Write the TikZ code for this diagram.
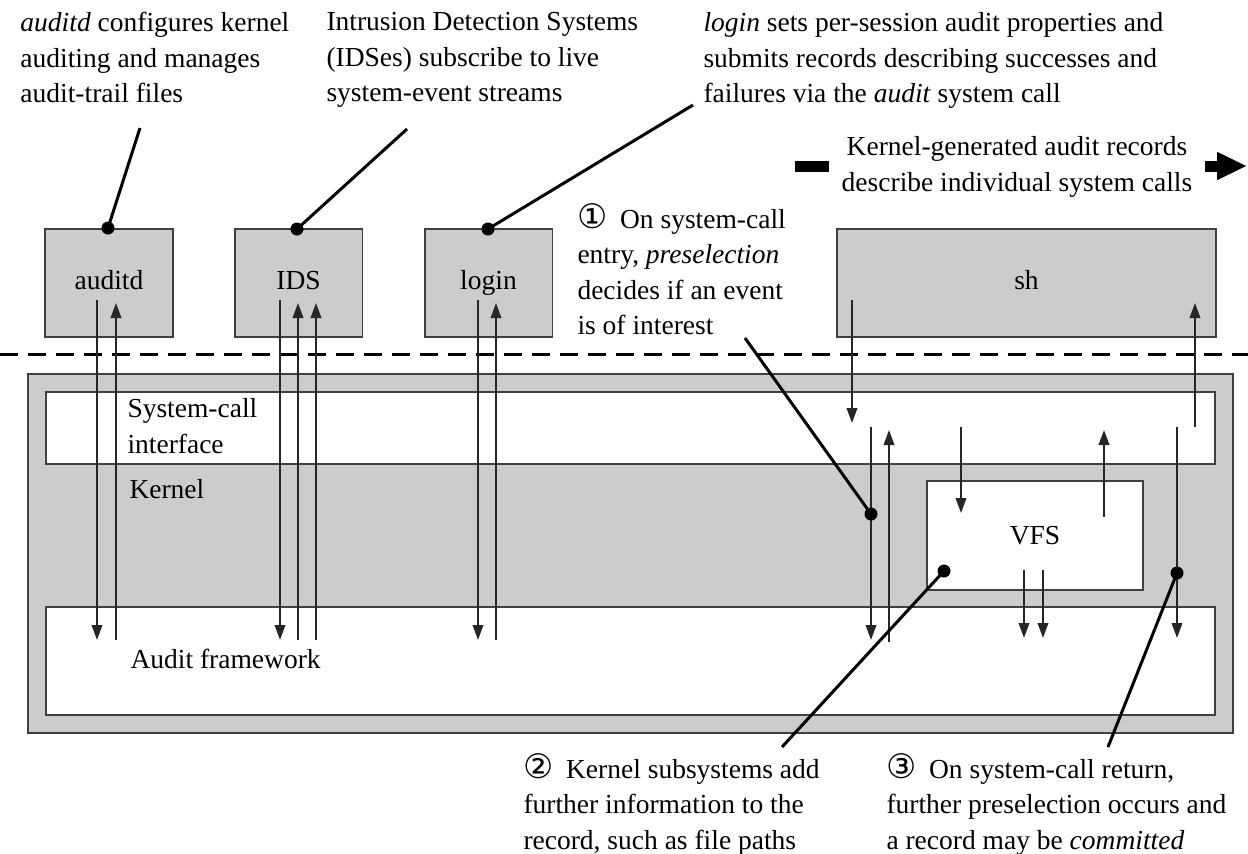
\documentclass[tikz,border=0pt]{standalone}
\usepackage{fontspec}
\setmainfont{Liberation Serif}
\newfontfamily\circfont{DejaVu Sans}
\usetikzlibrary{arrows.meta}
\tikzset{
  procbox/.style={draw=black!75, line width=0.6pt, fill=black!20,
    minimum width=51pt, minimum height=43.2pt, text height=1.6ex, text depth=0.4ex},
  layerbox/.style={draw=black!75, line width=0.6pt, fill=white,
    minimum width=467.6pt},
  note/.style={anchor=north west, inner sep=0pt, align=left},
  flow/.style={draw=black!85, line width=0.8pt, -{Triangle[length=6pt,width=4.2pt]}},
  callout/.style={line width=1.2pt},
  dot/.style={circle, fill=black, inner sep=0pt, minimum size=5.2pt},
  bigarrow/.style={line width=4.4pt, -{Triangle[length=12pt,width=10.4pt]}},
  userline/.style={line width=1.2pt, dash pattern=on 7.2pt off 4pt}
}
\newcommand{\cnum}[1]{{\circfont\fontsize{13.5}{13.5}\selectfont #1}\hspace{0.45em}}
\begin{document}
\begin{tikzpicture}[x=0.4pt,y=-0.4pt,font=\fontsize{11}{14.2}\selectfont]
    \useasboundingbox (0,0) rectangle (1248,854);
    % Kernel side
    \node[draw=black!75, line width=0.6pt, fill=black!20, minimum width=482pt,
      minimum height=143.6pt] (kernel) at (630.5,553.5) {};
    \node[layerbox, minimum height=28.8pt] (syscall) at (630.5,428) {};
    \node[layerbox, minimum height=43.2pt] (auditfw) at (630.5,661) {};
    \node[layerbox, minimum width=86.4pt, minimum height=43.6pt] (vfs) at (1035,535.5) {VFS};
    \node[note] (sclabel) at (127,398) {System-call\\interface};
    \node[note] (klabel) at (129,479) {Kernel};
    \node[note] (aflabel) at (130,649) {Audit framework};
    % User processes
    \node[procbox] (auditd) at (109,283) {auditd};
    \node[procbox] (ids) at (298.5,283) {IDS};
    \node[procbox] (login) at (488.5,283) {login};
    \node[procbox, minimum width=151.6pt] (sh) at (1026.5,283) {sh};
    \coordinate (dashl) at (0,354);
    \coordinate (dashr) at (1248,354);
    \draw[userline] (dashl) -- (dashr);
    % Flows
    \foreach \n/\x/\a/\b in {a1/97/300/640, a2/116/640/303, i1/280/300/640,
      i2/298/640/303, i3/316/640/303, l1/478/300/640, l2/496/640/303,
      s1/852/300/423, s2/871/427/640, s3/889/642/430, s4/961/427/513,
      s5/1104/517/430, s6/1177/427/638, s7/1195/427/303,
      v1/1024/570/638, v2/1043/570/638}
    {
      \coordinate (\n-from) at (\x,\a);
      \coordinate (\n-to) at (\x,\b);
      \draw[flow] (\n-from) -- (\n-to);
    }
    % Notes
    \node[note] (ntauditd) at (20,12) {\textit{auditd} configures kernel\\auditing and manages\\audit-trail files};
    \node[note] (ntids) at (326,12) {Intrusion Detection Systems\\(IDSes) subscribe to live\\system-event streams};
    \node[note] (ntlogin) at (703,12) {\textit{login} sets per-session audit properties and\\submits records describing successes and\\failures via the \textit{audit} system call};
    \coordinate (kstub) at (795,166);
    \coordinate (ktip) at (1247,166);
    \draw[bigarrow] (kstub) -- (ktip);
    \node[fill=white, inner xsep=5pt, inner ysep=1pt, align=center] (kgen) at (1017,167) {Kernel-generated audit records\\describe individual system calls};
    \node[note] (ann1) at (577,203) {\cnum{①}On system-call\\entry, \textit{preselection}\\decides if an event\\is of interest};
    \node[note] (ann2) at (523,753) {\cnum{②}Kernel subsystems add\\further information to the\\record, such as file paths};
    \node[note] (ann3) at (886,753) {\cnum{③}On system-call return,\\further preselection occurs and\\a record may be \textit{committed}};
    % Callouts
    \node[dot] (d1) at (108,228) {};
    \node[dot] (d2) at (297,229) {};
    \node[dot] (d3) at (488,229) {};
    \node[dot] (d4) at (871,514) {};
    \node[dot] (d5) at (944,571) {};
    \node[dot] (d6) at (1177,573) {};
    \coordinate (c1) at (140,128);
    \coordinate (c2) at (407,129);
    \coordinate (c3) at (693,105);
    \coordinate (c4) at (745,338);
    \coordinate (c5) at (782,747);
    \coordinate (c6) at (1108,747);
    \foreach \i in {1,...,6}
      \draw[callout] (c\i) -- (d\i.center);
\end{tikzpicture}
\end{document}
